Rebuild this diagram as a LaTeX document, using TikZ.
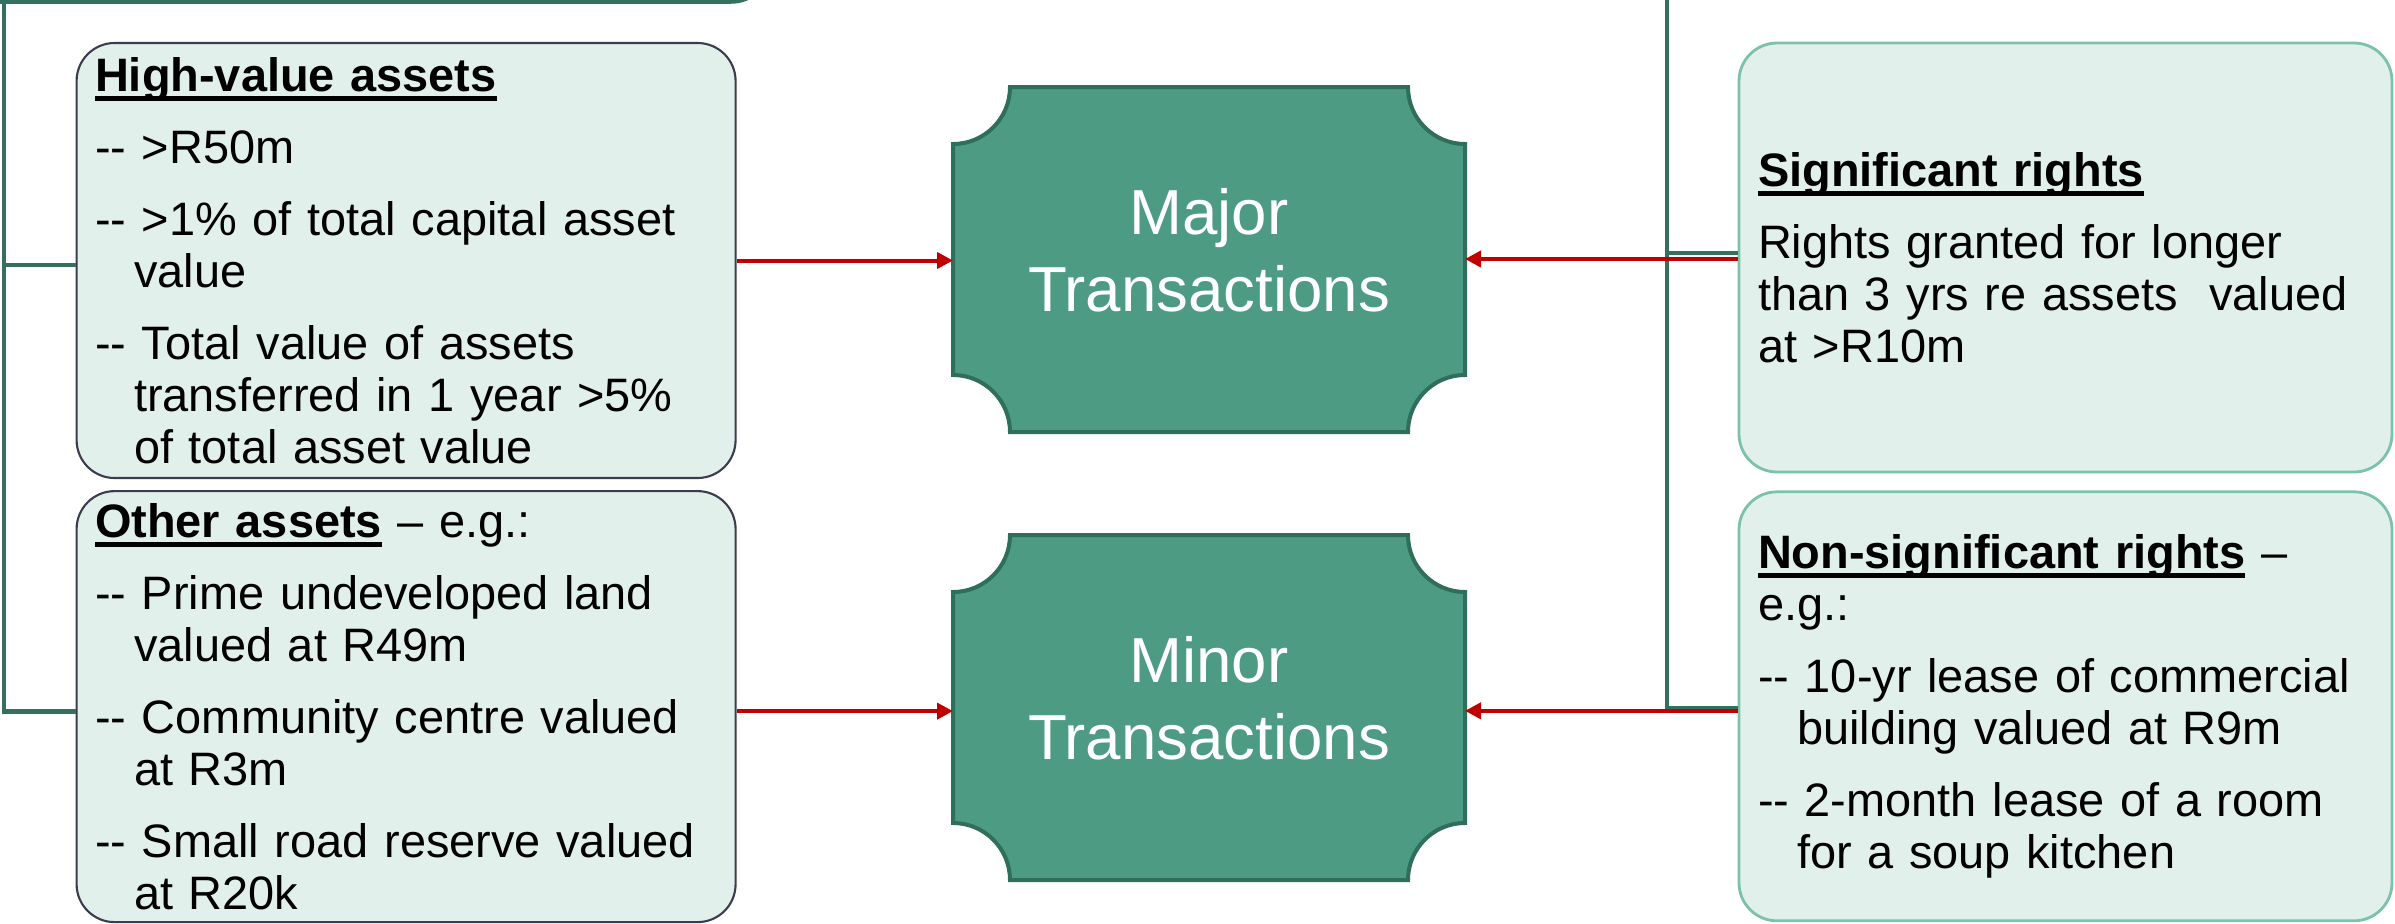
\documentclass[tikz,border=0pt]{standalone}
\usepackage{fontspec}
\setmainfont{Liberation Sans}
\usetikzlibrary{positioning, calc, arrows.meta, backgrounds}
\definecolor{plaquefill}{HTML}{4C9B82}
\definecolor{plaquerim}{HTML}{2F6E5A}
\definecolor{mint}{HTML}{E2F0EB}
\definecolor{slate}{HTML}{3C3C4E}
\definecolor{seafoam}{HTML}{7CC2A8}
\definecolor{arrowred}{HTML}{C00000}
\definecolor{branchgreen}{HTML}{33705E}
\newcommand{\nr}{0.57cm}
\newcommand{\boxfont}{\fontsize{13.35}{14.8}\selectfont
  \spaceskip=\fontdimen2\font\relax\hyphenpenalty=10000\exhyphenpenalty=10000\relax}
\tikzset{
  assetbox/.style={
    draw=slate, fill=mint, line width=0.6pt, rounded corners=0.38cm,
    text width=6.22cm, minimum width=6.59cm, align=left,
    inner xsep=0.185cm, inner ysep=0pt, font=\boxfont
  },
  rightsbox/.style={assetbox, draw=seafoam, line width=0.8pt,
    text width=6.15cm, minimum width=6.53cm, inner xsep=0.19cm},
  txn/.style={
    minimum width=5.12cm, minimum height=3.45cm, inner sep=0pt, outer sep=0pt,
    text=white, align=center, font=\fontsize{18.1}{21.9}\selectfont, text depth=0.19cm
  },
  plaqueline/.style={draw=plaquerim, fill=plaquefill, line width=0.04cm},
  flow/.style={draw=arrowred, line width=0.04cm, -{Triangle[length=0.16cm, width=0.16cm]}},
  branch/.style={draw=branchgreen, line width=0.045cm}
}
\newcommand{\hdr}[1]{\leavevmode\setbox0=\hbox{\bfseries #1}\rlap{\rule[-0.1cm]{\wd0}{0.05cm}}\box0\relax}
\newcommand{\itm}[1]{\par\vspace{0.2cm}\hangindent=0.39cm\hangafter=1\relax -{}- #1}
\newcommand{\plaque}[1]{%
  \draw[plaqueline] ($(#1.north west)+(\nr,0)$) -- ($(#1.north east)-(\nr,0)$)
    arc[start angle=180, end angle=270, radius=\nr] -- ($(#1.south east)+(0,\nr)$)
    arc[start angle=90, end angle=180, radius=\nr] -- ($(#1.south west)+(\nr,0)$)
    arc[start angle=0, end angle=90, radius=\nr] -- ($(#1.north west)-(0,\nr)$)
    arc[start angle=270, end angle=360, radius=\nr] -- cycle;
}

\begin{document}
\begin{tikzpicture}
  \useasboundingbox (0,0) rectangle (23.95,-9.23);

  % asset boxes
  \node[assetbox, minimum height=4.35cm] (highval) at (4.061,-2.605) {%
    \hdr{High-value assets}
    \itm{>R50m}
    \itm{>1\% of total capital asset value}
    \itm{Total value of assets transferred in 1 year >5\% of total asset value}\par};
  \node[assetbox, minimum height=4.31cm, below=0.11cm of highval] (otherast) {%
    \hdr{Other assets} \textendash{} e.g.:
    \itm{Prime undeveloped land valued at R49m}
    \itm{Community centre valued at R3m}
    \itm{Small road reserve valued at R20k}\par};

  % transactions
  \node[txn] (major) at (12.09,-2.595) {Major\\Transactions};
  \node[txn, below=1.03cm of major] (minor) {Minor\\Transactions};

  % rights boxes
  \node[rightsbox, minimum height=4.29cm] (sigrights) at (20.655,-2.575) {%
    \hdr{Significant rights}\par\vspace{0.2cm}
    Rights granted for longer than 3 yrs re assets\ \ valued at >R10m\par};
  \node[rightsbox, minimum height=4.29cm, below=0.17cm of sigrights] (nonsig) {%
    \hdr{Non-significant rights} \textendash{} e.g.:
    \itm{10-yr lease of commercial building valued at R9m}
    \itm{2-month lease of a room for a soup kitchen}\par};

  \begin{scope}[on background layer]
    \plaque{major}
    \plaque{minor}
  \end{scope}

  % tree lines from the box above
  \coordinate (lefttop) at (0.04,0.1);
  \coordinate (righttop) at (16.67,0.1);
  \draw[branch] (-0.2,-0.015) -- (7.31,-0.015) arc[start angle=270, end angle=360, radius=0.4];
  \draw[branch] (lefttop) |- ([yshift=-0.05cm]otherast.west);
  \draw[branch] (lefttop |- highval.west) ++(0,-0.045) -- ([yshift=-0.045cm]highval.west);
  \draw[branch] (righttop) |- ([yshift=-0.015cm]nonsig.west);
  \draw[branch] (righttop |- sigrights.west) ++(0,0.045) -- ([yshift=0.045cm]sigrights.west);

  % arrows
  \draw[flow] (highval.east) -- (highval.east -| major.west);
  \draw[flow] ([yshift=-0.015cm]sigrights.west) -- ([yshift=-0.015cm]sigrights.west -| major.east);
  \draw[flow] ([yshift=-0.045cm]otherast.east) -- ([yshift=-0.045cm]otherast.east -| minor.west);
  \draw[flow] ([yshift=-0.045cm]nonsig.west) -- ([yshift=-0.045cm]nonsig.west -| minor.east);
\end{tikzpicture}
\end{document}
